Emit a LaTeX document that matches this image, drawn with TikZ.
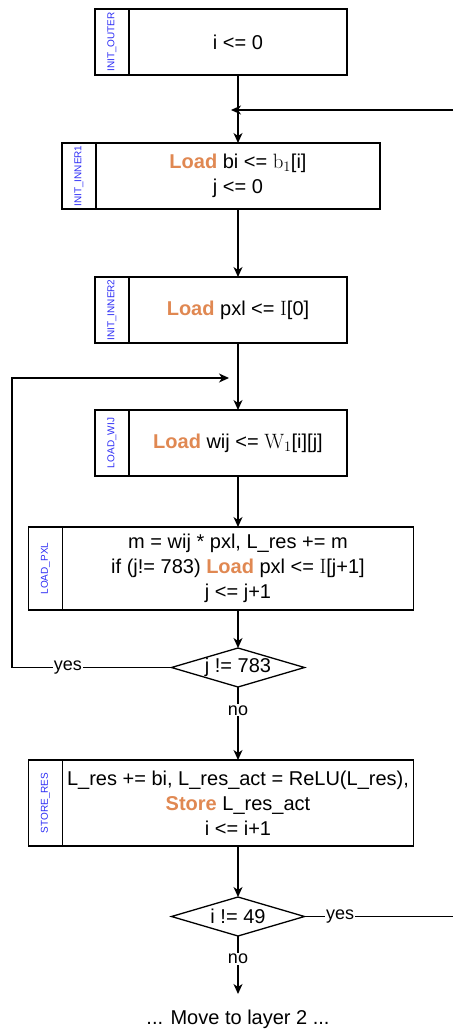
\documentclass[tikz,border=0pt]{standalone}
\usepackage[no-math]{fontspec}
\setmainfont{Liberation Sans}
\usetikzlibrary{arrows.meta, positioning, shapes.geometric}
\definecolor{loadclr}{RGB}{224,136,82}
\definecolor{tagclr}{RGB}{45,45,245}
\newcommand{\loadkw}{\textbf{\textcolor{loadclr}{Load}}}
\newcommand{\storekw}{\textbf{\textcolor{loadclr}{Store}}}
\begin{document}
\begin{tikzpicture}[x=1pt,y=1pt,>={Stealth[length=10pt,width=9pt,inset=3pt]},
  line width=1.3pt,
  every node/.style={font=\fontsize{20}{25}\selectfont},
  stepbox/.style={draw,align=center,minimum height=66pt,outer sep=0pt,inner sep=2pt},
  tag/.style={draw,rotate=90,anchor=south,minimum height=34pt,outer sep=0pt,
    inner sep=0pt,text=tagclr,font=\fontsize{10}{12}\selectfont},
  test/.style={draw,diamond,aspect=3.4,minimum width=133pt,minimum height=39pt,
    inner sep=0pt,outer sep=0pt},
  lbl/.style={fill=white,inner sep=1pt,font=\fontsize{18}{20}\selectfont}]
 \useasboundingbox (0,0) rectangle (453,-1032);
 \node[stepbox,minimum width=218pt] (outer) at (238,-42) {i <= 0};
 \node[tag,minimum width=66pt] (outertag) at (outer.west) {INIT\_OUTER};
 \node[stepbox,minimum width=284pt,below=68pt of outer] (inner1)
   {\loadkw{} bi <= \(\mathrm{b}_1\)[i]\\ j <= 0};
 \node[tag,minimum width=66pt] (inner1tag) at (inner1.west) {INIT\_INNER1};
 \node[stepbox,minimum width=218pt,below=68pt of inner1] (inner2)
   {\loadkw{} pxl <= \(\mathrm{I}\)[0]};
 \node[tag,minimum width=66pt] (inner2tag) at (inner2.west) {INIT\_INNER2};
 \node[stepbox,minimum width=218pt,below=67pt of inner2] (wij)
   {\loadkw{} wij <= \(\mathrm{W}_1\)[i][j]};
 \node[tag,minimum width=66pt] (wijtag) at (wij.west) {LOAD\_WIJ};
 \node[stepbox,minimum width=351pt,minimum height=83pt,below=51pt of wij] (pxl)
   {m = wij * pxl, L\_res += m\\ if (j!= 783) \loadkw{} pxl <= \(\mathrm{I}\)[j+1]\\ j <= j+1};
 \node[tag,minimum width=83pt] (pxltag) at (pxl.west) {LOAD\_PXL};
 \node[test,below=38pt of pxl] (jtest) {j != 783};
 \node[stepbox,minimum width=351pt,minimum height=86pt,below=73pt of jtest] (store)
   {L\_res += bi, L\_res\_act = ReLU(L\_res),\\ \storekw{} L\_res\_act\\ i <= i+1};
 \node[tag,minimum width=86pt] (storetag) at (store.west) {STORE\_RES};
 \node[test,below=51pt of store] (itest) {i != 49};
 \node[below=58pt of itest,inner ysep=15pt] (finish) {... Move to layer 2 ...};
 % loop ends
 \coordinate (righthigh) at (453,-110);
 \coordinate (join1) at (231,-110);
 \coordinate (lefthigh) at (12,-378);
 \coordinate (join2) at (229,-378);
 \draw[->] (outer) -- (inner1);
 \draw[->] (inner1) -- (inner2);
 \draw[->] (inner2) -- (wij);
 \draw[->] (wij) -- (pxl);
 \draw[->] (pxl) -- (jtest);
 \draw[->] (jtest) -- node[lbl,pos=.32] {no} (store);
 \draw[->] (store) -- (itest);
 \draw[->] (itest) -- node[lbl,pos=.4] {no} (finish);
 \draw[->] (jtest.west) -- node[lbl,pos=.65] {yes} (jtest.west -| lefthigh)
   -- (lefthigh) -- (join2);
 \draw (itest.east) -- node[lbl,pos=.24] {yes} (itest.east -| righthigh);
 \draw[->] (righthigh) -- (join1);
\end{tikzpicture}
\end{document}
